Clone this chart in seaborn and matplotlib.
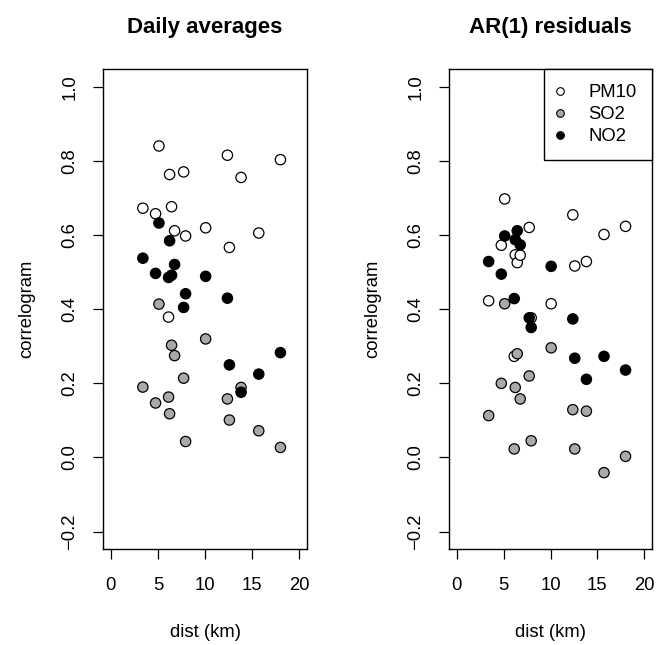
import numpy as np
import pandas as pd
import matplotlib
matplotlib.use("Agg")
import matplotlib.pyplot as plt
from matplotlib.lines import Line2D
import seaborn as sns

# ---- data ----
dist = [3.40, 4.75, 5.11, 6.13, 6.24, 6.45, 6.77, 7.73, 7.94, 10.07, 12.38, 12.59, 13.83, 15.71, 18.01]

daily_pm10 = [0.673, 0.658, 0.841, 0.379, 0.764, 0.677, 0.612, 0.771, 0.598, 0.620, 0.816, 0.567, 0.756, 0.606, 0.804]
daily_so2 = [0.190, 0.147, 0.414, 0.163, 0.118, 0.303, 0.275, 0.214, 0.043, 0.320, 0.158, 0.101, 0.189, 0.072, 0.027]
daily_no2 = [0.538, 0.497, 0.633, 0.486, 0.585, 0.492, 0.521, 0.405, 0.442, 0.489, 0.430, 0.250, 0.176, 0.225, 0.283]

ar_pm10 = [0.423, 0.573, 0.698, 0.273, 0.547, 0.526, 0.546, 0.621, 0.377, 0.415, 0.655, 0.517, 0.529, 0.602, 0.624]
ar_so2 = [0.113, 0.200, 0.415, 0.023, 0.189, 0.280, 0.158, 0.220, 0.045, 0.296, 0.129, 0.023, 0.125, -0.041, 0.003]
ar_no2 = [0.529, 0.495, 0.598, 0.429, 0.588, 0.612, 0.574, 0.377, 0.351, 0.516, 0.374, 0.268, 0.211, 0.273, 0.236]

pollutants = ["PM10", "SO2", "NO2"]
fills = {"PM10": "white", "SO2": "#A9A9A9", "NO2": "black"}
titles = ["Daily averages", "AR(1) residuals"]
xticks = [0, 5, 10, 15, 20]
yticks = [-0.2, 0.0, 0.2, 0.4, 0.6, 0.8, 1.0]


def long_df(pm, so, no):
    rows = []
    for name, vals in zip(pollutants, [pm, so, no]):
        for d, v in zip(dist, vals):
            rows.append({"dist": d, "corr": v, "pollutant": name})
    return pd.DataFrame(rows)


panels = [long_df(daily_pm10, daily_so2, daily_no2), long_df(ar_pm10, ar_so2, ar_no2)]

sns.set_theme(style="white")
plt.rcParams["font.family"] = ["Liberation Sans", "DejaVu Sans"]
plt.rcParams["font.size"] = 13.3
for k in ["text.color", "axes.labelcolor", "xtick.color", "ytick.color", "axes.edgecolor"]:
    plt.rcParams[k] = "black"

fig = plt.figure(figsize=(6.57, 6.45), dpi=100)
W, H = 657, 645
boxes = [(103.3, 306.7), (449.3, 651.7)]
top, bottom = 69.3, 549.3

for i, (df, title) in enumerate(zip(panels, titles)):
    x0, x1 = boxes[i]
    ax = fig.add_axes([x0 / W, 1 - bottom / H, (x1 - x0) / W, (bottom - top) / H])
    sns.scatterplot(data=df, x="dist", y="corr", hue="pollutant", hue_order=pollutants,
                    palette=fills, edgecolor="black", linewidth=0.9, s=55,
                    legend=False, ax=ax, zorder=3)
    ax.set_xlim(-0.8, 20.8)
    ax.set_ylim(-0.248, 1.048)
    ax.set_xticks(xticks)
    ax.set_xticklabels([str(t) for t in xticks])
    ax.set_yticks(yticks)
    ax.set_yticklabels([f"{t:.1f}".replace("-", "\u2212") for t in yticks], rotation=90, va="center")
    ax.tick_params(axis="both", which="both", direction="out", length=7.5, width=0.9,
                   color="black", labelcolor="black", labelsize=13.3,
                   bottom=True, left=True, top=False, right=False)
    ax.tick_params(axis="x", pad=12.5)
    ax.tick_params(axis="y", pad=10.5)
    for sp in ax.spines.values():
        sp.set_visible(True)
        sp.set_color("black")
        sp.set_linewidth(1.0)
    ax.set_xlabel("dist (km)", fontsize=13.3, color="black")
    ax.set_ylabel("correlogram", fontsize=13.3, color="black")
    ax.xaxis.set_label_coords(0.5, -0.155)
    ax.yaxis.set_label_coords(-0.335, 0.5)
    ax.set_title(title, fontsize=16, fontweight="bold", pad=26, color="black")
    ax.grid(False)
    if i == 1:
        handles = [Line2D([], [], marker="o", linestyle="none", markerfacecolor=fills[p],
                          markeredgecolor="black", markeredgewidth=0.8, markersize=5.5, label=p)
                   for p in pollutants]
        leg = ax.legend(handles=handles, loc="upper right", borderaxespad=0, fancybox=False,
                        framealpha=1, edgecolor="black", fontsize=13.3, handlelength=0.2,
                        handletextpad=1.43, borderpad=0.8, labelspacing=0.28)
        leg.get_frame().set_linewidth(1.0)

fig.savefig("out.png", dpi=100)
